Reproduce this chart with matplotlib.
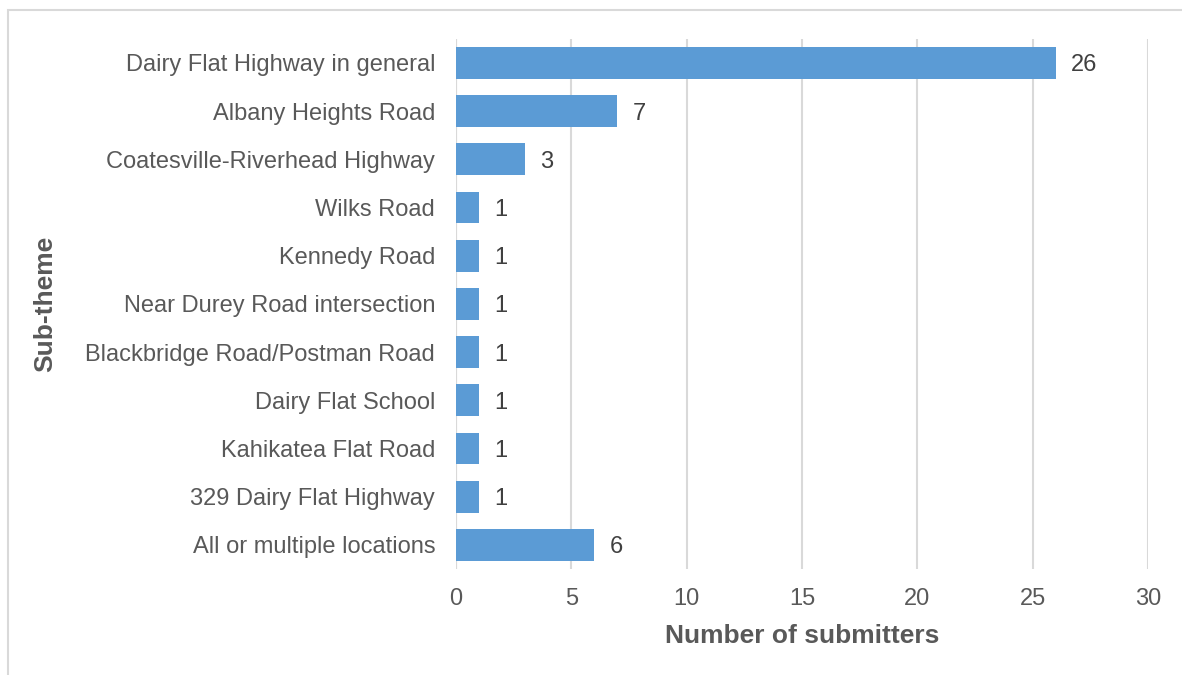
import matplotlib.pyplot as plt
from matplotlib.patches import Rectangle

plt.rcParams['font.family'] = ['Liberation Sans', 'DejaVu Sans']

categories = [
    "Dairy Flat Highway in general",
    "Albany Heights Road",
    "Coatesville-Riverhead Highway",
    "Wilks Road",
    "Kennedy Road",
    "Near Durey Road intersection",
    "Blackbridge Road/Postman Road",
    "Dairy Flat School",
    "Kahikatea Flat Road",
    "329 Dairy Flat Highway",
    "All or multiple locations",
]
counts = [26, 7, 3, 1, 1, 1, 1, 1, 1, 1, 6]
x_ticks = [0, 5, 10, 15, 20, 25, 30]

bar_color = '#5B9BD5'
text_color = '#595959'
grid_color = '#D9D9D9'

fig = plt.figure(figsize=(11.82, 6.75), dpi=100)
ax = fig.add_axes([0.3858, 0.157, 0.9712 - 0.3858, 0.9424 - 0.157])

ypos = list(range(len(categories)))
ax.barh(ypos, counts, height=0.66, color=bar_color, zorder=3)
for y, v in zip(ypos, counts):
    ax.text(v + 0.65, y, str(v), va='center_baseline', ha='left',
            fontsize=17, color='#404040')

ax.set_xlim(0, 30)
ax.set_ylim(len(categories) - 0.5, -0.5)
ax.set_yticks(ypos)
ax.set_yticklabels(categories, fontsize=17, color=text_color)
ax.set_xticks(x_ticks)
ax.set_xticklabels([str(t) for t in x_ticks], fontsize=17, color=text_color)
ax.tick_params(length=0)
ax.tick_params(axis='y', pad=15)
ax.tick_params(axis='x', pad=14)
ax.xaxis.grid(True, color=grid_color, linewidth=1.5, zorder=0)
for s in ax.spines.values():
    s.set_visible(False)
ax.axvline(0, color=grid_color, linewidth=1.5, zorder=1)

ax.set_xlabel('Number of submitters', fontsize=19, fontweight='bold',
              color=text_color, labelpad=10)
ax.set_ylabel('Sub-theme', fontsize=19, fontweight='bold', color=text_color)
ax.yaxis.set_label_coords((57 - 456) / (1148 - 456), 0.5)

# chart border
fig.patches.append(Rectangle((8 / 1182, -0.01), 1.2, 1 - 10 / 675 + 0.01,
                             transform=fig.transFigure, fill=False,
                             edgecolor=grid_color, linewidth=1.5))

fig.savefig('out.png', dpi=100)
